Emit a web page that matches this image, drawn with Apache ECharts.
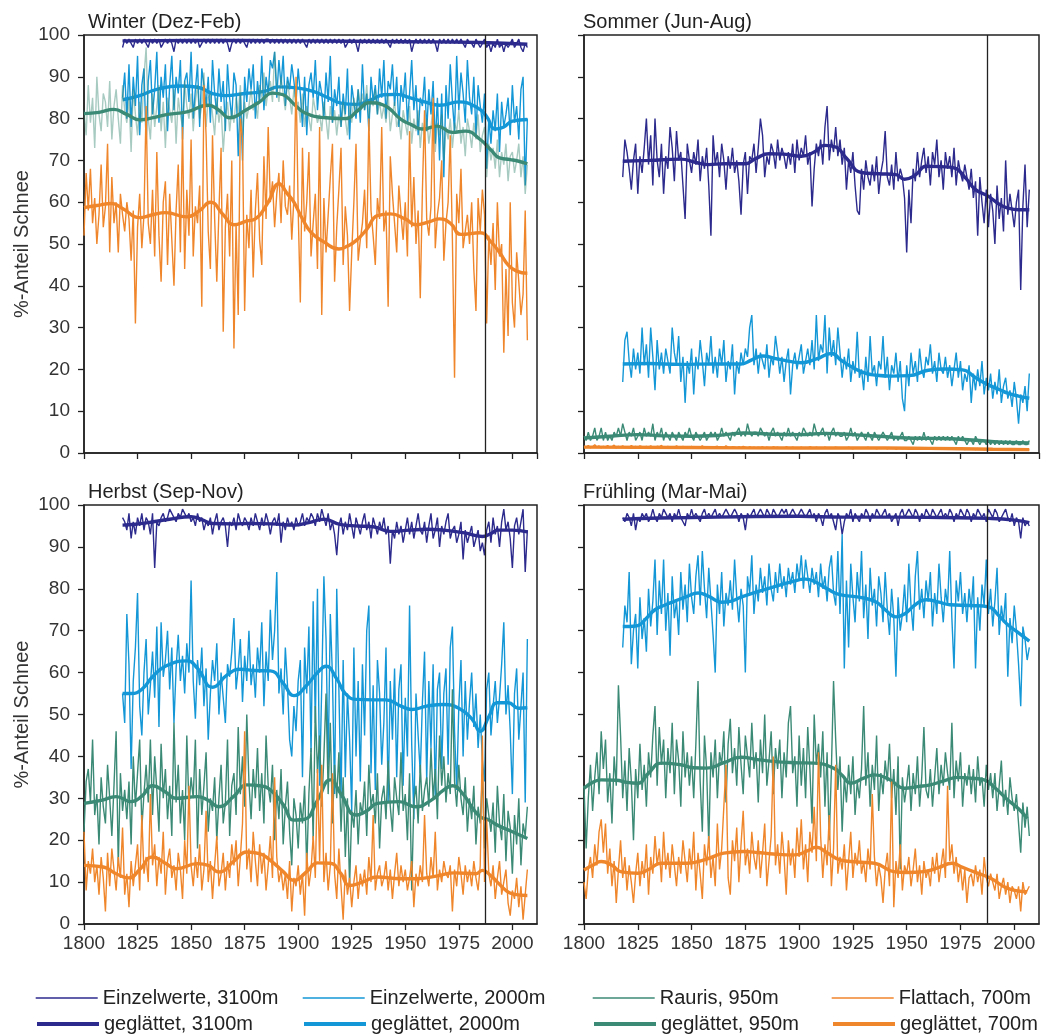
<!DOCTYPE html>
<html><head><meta charset="utf-8">
<script src="https://cdn.jsdelivr.net/npm/echarts/dist/echarts.min.js"></script>
<style>html,body{margin:0;padding:0;background:#fff}#c{width:1057px;height:1035px}</style>
</head><body><div id="c"></div>
<script>
// ---------- DATA ----------
const breakYear = 1987.5;   // vertical marker between 1987 and 1988
const xTickLabels = [1800,1825,1850,1875,1900,1925,1950,1975,2000];
const startHigh = 1818;   // 3100m & 2000m series start
const startLow = 1800;    // Rauris 950m & Flattach 700m start
const panelTitles = ['Winter (Dez-Feb)','Sommer (Jun-Aug)','Herbst (Sep-Nov)','Frühling (Mar-Mai)'];
const names = ['Einzelwerte, 3100m','Einzelwerte, 2000m','Rauris, 950m','Flattach, 700m'];
const namesS = ['geglättet, 3100m','geglättet, 2000m','geglättet, 950m','geglättet, 700m'];

// Winter
const w3100 = [97,99,98,99,98,97,99,98,99,98, 99,98,97,99,98,99,98,99,97,98, 99,98,99,98,96,99,98,99,98,99, 98,99,98,99,98,99,97,98,99,98,
 99,98,99,98,99,98,99,98,99,98, 96,98,99,98,99,98,99,98,97,99, 98,99,98,99,98,99,98,99,99,98, 99,98,99,98,99,98,99,98,99,98,
 99,98,99,98,99,98,97,99,98,99, 98,99,98,99,98,99,98,99,98,99, 98,99,98,99,97,98,99,98,99,98, 96,99,98,99,98,99,98,99,98,99,
 98,99,98,99,98,97,99,98,99,98, 99,98,99,98,99,96,98,99,98,99, 98,99,98,99,98,99,98,96,99,98, 99,98,99,98,99,98,99,98,99,98,
 97,99,98,98,97,99,98,97,98,99, 97,98,96,98,97,99,97,98,96,98, 97,98,99,97,98,99,97,96,98,97];
const w2000 = [85,91,80,93,78,90,83,95,76,88, 92,74,89,94,81,87,96,79,90,85, 93,77,88,95,82,90,86,94,75,89, 91,84,96,80,87,93,78,92,88,83,
 90,79,94,86,81,92,84,89,77,93, 85,80,91,88,71,86,70,90,84,92, 87,93,80,89,84,95,82,90,86,94, 92,96,85,94,88,95,83,90,87,93,
 89,84,92,86,78,90,76,88,91,85, 94,82,89,86,80,91,84,95,79,87, 83,90,78,86,81,92,75,88,84,80, 87,79,93,82,86,77,90,84,88,81,
 92,85,94,80,89,87,93,83,90,78, 88,84,91,79,86,94,82,88,76,85, 83,90,77,87,81,89,74,85,70,86, 66,88,80,93,84,77,95,82,91,86,
 79,94,85,81,90,76,88,83,79,86, 68,80,74,82,77,86,72,84,78,81, 85,76,88,79,83,75,87,90,64,80];
const w950 = [82,76,88,79,85,73,90,81,77,86, 84,78,89,75,83,87,80,74,88,82, 79,85,72,87,81,76,84,79,90,97, 80,75,86,78,83,88,77,84,73,85,
 82,79,87,74,85,81,78,89,83,80, 86,77,84,88,80,83,91,78,85,86, 81,76,85,79,83,72,80,84,77,82, 79,85,81,88,76,84,80,83,87,82,
 84,80,88,85,91,83,87,89,84,96, 88,84,90,86,82,89,85,81,87,83, 84,79,86,78,83,80,77,85,82,79, 81,77,84,80,75,83,79,82,76,81,
 78,84,80,76,83,79,85,81,87,83, 86,82,88,80,85,83,87,81,84,80, 83,79,86,77,81,84,78,80,75,82, 79,76,83,74,80,77,82,73,79,76,
 80,74,78,83,72,79,76,81,70,78, 75,80,73,79,77,82,74,78,71,80, 77,73,79,75,81,72,76,78,66,74, 70,73,68,75,66,72,69,74,65,71,
 72,67,70,74,66,71,62,69];
const w700 = [52,67,58,68,55,61,50,57,69,54, 59,74,48,66,55,60,48,62,57,53, 60,56,46,58,31,54,62,49,57,83, 55,50,63,47,72,52,41,60,65,45,
 62,51,40,58,69,48,78,44,63,52, 75,47,59,55,64,35,88,76,53,44, 76,56,41,58,73,29,54,62,47,70, 25,55,33,80,75,34,57,49,63,42,
 58,67,51,45,71,56,78,60,65,54, 62,67,55,70,59,57,64,51,61,90, 58,36,73,53,60,72,47,55,62,44, 78,33,61,48,57,66,74,41,54,63,
 73,45,59,52,34,48,60,74,46,51, 55,63,49,80,58,52,45,61,56,78, 53,58,35,71,62,55,48,64,57,51, 60,47,77,54,66,50,58,37,63,82,
 56,52,59,85,49,57,61,70,46,55, 60,76,51,18,62,55,68,49,53,57, 50,60,44,34,61,53,63,57,31,52, 45,55,39,60,47,50,24,44,28,60,
 36,30,48,41,33,38,58,27];
const wS3100 = [[1818,98.6],[1850,98.7],[1900,98.6],[1950,98.4],[1985,98.2],[2007,97.8]];
const wS2000 = [[1818,84.5],[1826,85.5],[1834,87],[1845,87.8],[1853,87.5],[1860,86],[1866,85.5],[1875,86],[1884,86.5],[1891,87.6],[1900,87.3],[1907,86.5],[1914,85],[1920,83.7],[1927,83.4],[1934,84.5],[1940,85.7],[1946,85.8],[1952,85],[1959,84],[1966,83.2],[1975,84],[1984,82.5],[1988,80.5],[1992,77.5],[1996,78],[2000,79.4],[2007,79.8]];
const wS950 = [[1800,81.2],[1807,81.5],[1814,82.2],[1820,81],[1826,79.7],[1833,80.3],[1839,81],[1848,81.6],[1858,83.2],[1863,82],[1868,80.2],[1876,82.2],[1882,84],[1888,86.1],[1893,85.7],[1898,83.5],[1903,81.4],[1913,80.2],[1922,80],[1928,82],[1933,83.8],[1940,83.2],[1948,79.8],[1953,78.5],[1958,77.5],[1965,78.2],[1972,76.7],[1978,77],[1985,75],[1990,72.5],[1994,70.6],[1999,70.2],[2003,69.8],[2007,69.2]];
const wS700 = [[1800,58.7],[1806,59.2],[1813,59.7],[1818,58.5],[1826,56.3],[1832,57],[1838,57.5],[1848,56.5],[1854,58],[1859,60],[1865,57],[1870,54.6],[1876,55.5],[1880,56],[1886,60],[1891,64.4],[1895,62],[1898,60],[1902,56],[1906,52.8],[1912,50.5],[1919,48.8],[1923,49.5],[1927,50.8],[1932,53.5],[1937,56.8],[1943,57.2],[1950,56],[1955,54.6],[1961,55.3],[1966,56],[1971,55],[1976,52.3],[1985,52.7],[1990,50.5],[1994,48],[1998,45],[2002,43.5],[2007,43]];

// Sommer
const s3100 = [66,75,72,68,63,70,74,62,71,67, 73,80,69,76,64,80,70,66,74,62, 71,68,78,73,65,77,70,72,64,56, 74,70,67,72,69,75,65,71,68,73,
 64,52,76,69,72,66,74,70,63,71, 68,73,67,70,65,57,69,72,62,71, 70,74,67,73,80,76,66,71,69,74, 72,68,75,70,73,71,68,72,69,74,
 67,75,70,73,71,76,69,72,59,68, 74,71,75,69,78,83,70,75,72,78, 71,75,69,73,63,70,67,72,64,58, 57,68,63,70,66,64,69,65,71,62,
 67,70,77,66,64,69,63,72,65,68, 66,61,48,63,55,68,65,72,66,70, 73,67,71,64,72,69,75,66,70,63, 72,68,71,66,73,64,70,67,65,69,
 66,63,68,61,65,52,66,60,55,63, 54,62,58,50,64,56,61,53,70,57, 62,58,54,60,63,39,59,69,54,63];
const s2000 = [17,27,29,22,18,25,20,24,19,30, 21,26,18,30,23,15,27,20,24,19, 25,22,19,30,24,21,28,17,23,12, 22,19,25,14,23,20,27,22,16,24,
 21,28,19,23,18,25,21,27,17,22, 20,26,14,22,19,24,21,25,23,30, 33,21,25,19,24,22,20,26,18,23, 21,28,24,19,23,17,22,25,14,21,
 24,20,23,26,19,22,25,21,27,20, 33,22,26,24,33,19,30,23,27,21, 30,24,18,23,20,25,17,22,19,29, 18,20,15,23,17,28,19,21,16,22,
 20,28,18,23,15,21,19,24,17,22, 13,10,21,16,24,19,22,17,25,20, 18,23,21,26,19,22,17,24,20,19, 23,18,21,16,20,24,18,22,15,19,
 17,21,12,19,15,20,16,22,14,18, 15,19,13,17,14,20,12,16,18,13, 15,11,17,13,7,14,12,16,10,19];
const s950 = [4,3,5,3,4,6,3,4,6,3, 5,3,4,3,5,4,6,4,7,5, 3,5,4,6,3,4,5,3,6,4, 5,4,7,3,5,4,6,3,5,4, 3,5,4,3,5,4,3,5,4,6,
 4,3,5,4,3,4,5,3,4,5, 4,5,3,4,6,4,5,4,3,5, 4,5,6,4,5,4,7,5,4,5, 5,4,6,5,4,5,3,5,6,4, 5,4,3,5,4,6,4,5,4,3,
 5,4,6,5,4,5,4,7,5,4, 5,6,4,5,3,5,6,4,5,4, 4,5,3,4,6,4,5,3,4,5, 4,3,5,4,3,5,4,3,4,5, 4,3,4,5,3,4,3,4,5,3,
 3,4,3,2,4,3,4,3,5,3, 4,3,2,4,3,4,3,4,3,4, 3,4,3,2,4,3,4,3,2,3, 3,2,4,3,2,3,3,2,3,2, 3,2,3,2,3,2,3,2,3,2,
 2,3,2,2,3,2,2,3];
const s700 = [1.6,1.3,1.8,1.2,1.5,2.0,1.4,1.7,1.2,1.6, 1.4,1.8,1.3,1.5,1.9,1.2,1.6,1.4,1.7,1.3, 1.5,1.2,1.8,1.4,1.6,1.3,1.7,1.5,1.2,1.6,
 1.3,1.7,1.4,1.2,1.6,1.5,1.8,1.3,1.4,1.6, 1.2,1.5,1.3,1.7,1.4,1.2,1.6,1.3,1.5,1.4, 1.6,1.3,1.2,1.5,1.4,1.7,1.3,1.5,1.2,1.4,
 1.3,1.5,1.6,1.2,1.4,1.3,1.7,1.4,1.2,1.5, 1.4,1.2,1.5,1.3,1.6,1.4,1.2,1.5,1.3,1.4, 1.2,1.4,1.3,1.5,1.1,1.4,1.3,1.2,1.5,1.3,
 1.4,1.1,1.3,1.2,1.5,1.3,1.1,1.4,1.2,1.3, 1.2,1.4,1.1,1.3,1.2,1.5,1.3,1.1,1.4,1.2, 1.3,1.1,1.4,1.2,1.3,1.1,1.2,1.4,1.3,1.1,
 1.2,1.3,1.1,1.4,1.2,1.0,1.3,1.2,1.1,1.3, 1.1,1.2,1.4,1.1,1.3,1.2,1.0,1.2,1.3,1.1, 1.2,1.0,1.3,1.1,1.2,0.9,1.1,1.3,1.0,1.2,
 1.1,0.9,1.2,1.0,1.1,1.3,1.0,1.1,0.9,1.2, 1.0,1.2,0.9,1.1,1.0,1.2,0.9,1.1,1.0,1.1, 1.1,0.9,1.0,1.2,0.9,1.0,1.1,0.8,1.0,1.1,
 0.9,1.0,0.8,1.1,0.9,1.0,0.8,0.9,1.0,0.8, 0.9,0.8,1.0,0.7,0.9,0.8,0.9,0.7,0.8,0.9, 0.8,0.7,0.9,0.8,0.7,0.8,0.9,0.7];
const sS3100 = [[1818,69.8],[1830,70],[1845,70.3],[1852,69.5],[1858,69],[1865,69.2],[1875,69.2],[1880,70.5],[1886,71.6],[1893,71.5],[1901,71],[1907,72],[1912,73.6],[1917,73.2],[1922,70.5],[1929,67.1],[1937,66.8],[1945,66.6],[1949,65.5],[1954,66.5],[1959,68.6],[1966,68.5],[1972,68.2],[1977,66],[1982,63],[1988,61.4],[1993,59.5],[1997,58.6],[2002,58.2],[2007,58.2]];
const sS2000 = [[1818,21.3],[1830,21.4],[1845,21.2],[1860,21.3],[1873,21.3],[1878,22.3],[1883,23.2],[1890,22.5],[1901,21.6],[1908,22.5],[1915,23.8],[1920,22],[1929,19.4],[1936,18.6],[1943,18.4],[1951,18.5],[1960,19.8],[1968,20.1],[1976,19.9],[1982,18],[1988,16.3],[1993,15.2],[1997,14.3],[2002,13.6],[2007,13.1]];
const sS950 = [[1800,3.6],[1812,4],[1825,4.4],[1837,4.1],[1850,4],[1862,4.2],[1875,4.8],[1888,4.5],[1900,4.4],[1912,4.7],[1925,4.4],[1937,4],[1950,3.6],[1962,3.5],[1975,3.3],[1988,2.8],[1998,2.5],[2007,2.4]];
const sS700 = [[1800,1.4],[1850,1.3],[1900,1.2],[1940,1.2],[1960,1.1],[1990,0.9],[2007,0.8]];

// Herbst
const h3100 = [97,96,94,98,92,96,93,97,95,98, 94,97,96,93,98,85,96,95,97,98, 96,97,99,98,97,96,98,97,99,98, 97,98,96,97,95,98,96,97,94,96,
 95,97,93,96,98,94,96,97,95,90, 96,95,97,94,98,96,95,97,96,94, 97,95,98,96,94,97,95,98,96,93, 96,97,95,98,91,96,94,97,95,96,
 94,97,95,96,98,95,97,96,98,97, 95,98,96,99,97,95,98,94,96,93, 88,95,97,93,96,94,98,95,92,97, 95,93,96,98,94,96,92,97,95,93,
 96,94,97,93,95,86,94,92,96,93, 95,91,94,97,93,96,92,95,98,94, 93,96,91,95,98,92,94,97,90,95, 93,96,98,92,94,95,91,93,96,87,
 94,91,93,95,90,92,94,89,91,88, 94,96,91,97,93,95,90,96,99,94, 96,92,85,95,97,93,96,99,84,94];
const h2000 = [55,48,74,62,37,58,66,79,52,45, 60,68,50,57,65,54,71,47,72,59, 63,70,56,66,48,61,69,58,64,55, 67,60,82,58,49,63,57,66,52,61,
 44,55,63,58,67,50,60,54,48,62, 59,65,73,56,61,68,53,64,58,70, 57,62,54,66,60,72,52,65,58,75, 63,70,84,55,61,50,66,57,44,40,
 52,46,58,63,35,66,55,71,41,77, 48,80,33,57,83,68,38,74,59,31, 80,56,30,63,35,55,44,27,66,40, 58,34,62,45,70,76,36,57,32,63,
 55,38,48,66,29,58,44,61,35,56, 62,33,54,40,76,43,25,55,45,36, 53,65,34,58,42,62,30,56,60,37, 55,61,38,66,71,46,32,52,63,40,
 58,44,53,60,47,55,42,50,39,34, 56,60,45,52,58,48,54,62,72,50, 57,46,31,55,61,44,52,60,29,68];
const h950 = [22,34,37,29,44,26,31,19,35,28, 24,38,30,21,33,46,14,36,27,32, 25,34,19,40,28,36,44,23,31,38, 29,44,26,40,32,22,43,30,37,25,
 33,21,48,29,38,24,32,20,45,28, 35,30,44,18,37,26,33,41,22,30, 27,35,20,30,38,24,29,44,21,33, 36,26,47,31,40,28,50,34,25,37,
 30,42,27,36,24,45,33,29,38,20, 32,25,37,19,28,34,22,14,30,26, 18,29,24,33,13,31,42,20,52,36, 45,28,40,55,31,48,24,38,30,41,
 22,35,16,30,9,27,23,32,19,29, 26,34,21,38,28,31,24,36,18,30, 33,25,39,28,22,35,30,26,41,27, 31,20,36,8,29,33,24,38,27,32,
 35,28,42,30,37,25,45,33,40,29, 36,31,56,34,28,38,30,26,35,22, 30,25,33,19,28,24,36,18,30,26, 22,29,17,33,24,20,31,15,27,23,
 12,26,19,30,14,24,21,28];
const h700 = [22,8,15,12,18,10,14,7,16,11, 3,17,9,18,13,8,16,11,23,7, 12,4,15,9,14,19,8,26,12,16, 10,31,14,19,9,16,12,22,7,15,
 18,11,14,8,17,13,6,20,12,33, 14,9,16,11,19,8,13,27,10,15, 6,14,21,9,12,17,8,15,11,19, 14,20,9,16,24,46,13,18,10,22,
 15,9,19,12,17,8,14,21,11,35, 16,10,13,8,12,6,15,3,11,9, 14,7,12,2,17,9,13,21,11,37, 15,38,10,17,8,14,36,12,6,18,
 9,1,13,7,11,4,10,14,6,12, 9,13,7,16,10,26,8,12,14,9, 11,15,8,13,6,12,17,9,14,10, 13,8,11,15,4,12,9,14,10,26,
 12,9,16,11,22,8,13,10,15,12, 11,14,3,13,9,16,12,7,14,10, 13,9,15,11,8,14,45,10,25,12, 9,14,6,11,15,7,10,13,5,2,
 8,6,11,4,9,1,7,13];
const hS3100 = [[1818,95.2],[1824,95.4],[1830,95.8],[1840,96.6],[1850,97.2],[1855,96.5],[1860,95.6],[1870,95.5],[1877,95.6],[1888,95.5],[1898,95.2],[1905,95.8],[1912,96.6],[1920,95.3],[1928,95],[1935,94.8],[1943,93.7],[1952,94],[1960,94.2],[1968,94],[1977,93.4],[1986,92.5],[1990,93.2],[1993,94],[2000,94],[2007,93.6]];
const hS2000 = [[1818,55],[1822,55],[1827,56],[1832,59],[1838,61.5],[1848,62.8],[1853,61],[1860,56.5],[1867,59.5],[1873,60.8],[1880,60.5],[1887,60.4],[1893,57.5],[1898,54.5],[1904,57],[1909,60],[1913,61.5],[1918,58.5],[1922,55],[1927,53.6],[1935,53.5],[1941,53.5],[1948,52],[1953,51.2],[1960,52],[1968,52.4],[1975,51.5],[1981,49],[1985,46],[1989,49.5],[1993,52.8],[1998,52.8],[2003,51.5],[2007,51.6]];
const hS950 = [[1800,28.8],[1808,29.5],[1815,30.4],[1822,29.2],[1827,30.5],[1832,33],[1838,31.5],[1843,30],[1853,30.4],[1858,29.5],[1863,28],[1870,30.5],[1876,33.2],[1882,33],[1887,32],[1893,28.5],[1898,24.8],[1903,25],[1909,29.5],[1915,34.4],[1920,31],[1927,26],[1932,27],[1937,28.8],[1947,29.2],[1955,28],[1962,29.5],[1968,32],[1972,33],[1977,31],[1981,28],[1985,25.6],[1989,24.8],[1993,23.6],[2000,22],[2007,20.4]];
const hS700 = [[1800,14],[1809,13.6],[1815,12],[1821,11],[1826,13],[1832,16],[1838,14.5],[1843,13.2],[1853,14.4],[1858,14],[1863,12.4],[1870,15],[1876,17.2],[1882,16.8],[1887,15.2],[1893,12.5],[1898,10.4],[1904,12.5],[1909,14.6],[1915,14.5],[1920,12],[1924,9.2],[1930,10],[1937,11.2],[1948,10.8],[1955,10.8],[1965,11.5],[1973,12.2],[1983,12],[1986,12.8],[1990,11.5],[1993,10],[1997,8],[2000,7.2],[2007,6.8]];

// Frühling
const f3100 = [97,96,98,97,95,98,94,97,96,98, 97,98,96,97,99,97,96,98,97,99, 98,97,98,96,98,97,99,97,96,95, 98,97,99,97,98,97,96,98,99,97,
 98,97,98,99,97,98,97,98,99,98, 97,98,99,98,96,98,97,94,98,97, 98,99,97,98,99,98,97,99,98,97, 99,98,97,98,99,98,99,97,98,99,
 98,97,98,99,98,97,98,99,97,98, 96,98,97,95,98,99,97,98,96,94, 98,97,93,96,98,97,99,96,98,97, 96,98,97,99,98,96,98,97,99,98,
 97,98,99,97,98,96,97,98,95,98, 99,97,98,99,98,97,99,98,96,98, 97,99,98,97,99,98,97,98,99,97, 98,97,99,98,96,98,97,99,98,97,
 99,98,96,98,97,99,98,97,98,96, 99,98,97,99,98,96,97,98,99,97, 96,98,95,97,96,92,97,95,96,95];
const f2000 = [66,76,72,84,62,70,74,61,78,68, 73,65,80,71,77,87,69,82,74,87, 70,79,64,83,73,77,69,84,75,81, 72,86,78,74,83,88,76,89,80,73,
 85,77,69,60,81,74,84,71,79,76, 82,75,87,78,72,80,76,60,83,79, 88,74,81,77,85,79,83,76,86,80, 77,84,79,86,80,83,78,85,81,84,
 79,86,82,88,80,87,83,79,85,81, 84,78,86,80,83,77,85,88,79,76, 89,74,93,61,82,66,86,78,72,84, 77,89,73,81,68,85,76,80,71,83,
 79,72,84,75,69,80,73,59,78,70, 74,81,72,86,76,70,83,89,75,80, 73,82,77,84,71,79,74,86,78,72, 80,76,89,73,61,82,77,84,74,79,
 72,80,75,83,61,78,70,81,76,87, 74,80,71,77,85,69,76,72,79,59, 73,67,76,70,62,52,71,68,63,66];
const f950 = [33,18,30,38,27,35,41,31,46,37, 44,29,36,24,40,33,57,45,30,39, 27,42,34,20,37,30,43,32,38,28, 41,35,45,52,33,47,38,44,30,42,
 36,48,31,44,39,28,46,35,41,33, 40,30,43,58,34,22,45,37,19,41, 35,44,30,41,38,46,29,43,49,36, 42,33,47,38,31,45,40,35,48,37,
 41,29,44,36,50,33,39,46,31,42, 37,44,30,41,35,48,52,36,40,28, 45,33,42,30,47,37,24,50,38,43, 35,46,28,41,20,37,58,44,32,40,
 22,35,29,38,31,40,26,34,30,37, 52,33,41,28,38,32,45,27,36,31, 39,34,43,30,37,26,40,13,35,29, 33,38,27,36,31,40,28,35,47,32,
 30,37,28,35,42,31,38,33,41,36, 32,48,30,39,34,41,28,36,33,38, 31,37,29,40,33,35,28,38,32,36, 30,36,27,33,39,28,32,26,35,30,
 27,31,24,17,29,23,28,21];
const f700 = [10,6,13,16,11,19,14,22,25,17, 24,12,18,9,15,5,13,20,11,16, 8,14,10,5,12,17,9,15,11,19, 7,16,12,21,14,18,10,22,13,17,
 11,19,14,9,16,12,20,15,10,18, 13,22,8,17,12,6,19,14,21,11, 16,9,24,13,18,28,38,11,7,20, 15,23,10,19,27,14,18,12,22,16,
 13,20,11,17,24,9,15,21,40,14, 19,12,22,16,7,20,14,18,11,23, 16,25,13,19,10,22,17,28,15,41, 21,11,19,14,26,9,18,38,12,16,
 13,19,8,15,22,11,17,14,20,12, 15,10,18,13,31,16,9,14,11,5, 13,17,9,34,4,15,11,19,8,14, 12,16,9,13,18,10,14,7,15,11,
 13,9,16,12,17,10,14,18,11,33, 15,19,12,16,10,14,8,13,5,11, 12,9,14,10,13,7,16,11,9,12, 10,8,12,6,9,11,7,10,5,9,
 8,6,9,3,10,7,8,9];
const fS3100 = [[1818,96.6],[1835,96.9],[1850,97],[1873,97.2],[1900,97.3],[1920,97.1],[1945,97.1],[1966,97],[1988,96.8],[2000,96.4],[2007,95.8]];
const fS2000 = [[1818,71],[1821,71],[1825,71.2],[1829,73],[1833,75],[1838,76.2],[1842,77],[1848,78.2],[1853,79],[1858,78.2],[1864,76.8],[1868,77],[1873,78],[1880,79.2],[1889,80.6],[1896,81.6],[1903,82.3],[1908,81.5],[1913,80],[1919,78.6],[1925,78.2],[1930,77.8],[1936,76.8],[1940,75],[1945,73.3],[1949,74],[1954,76.2],[1959,77.4],[1965,76.8],[1970,76.2],[1980,76],[1988,75.7],[1993,73.5],[1997,71.4],[2002,69.5],[2007,67.5]];
const fS950 = [[1800,32.4],[1804,33.8],[1808,34.4],[1815,34.3],[1820,33.8],[1825,33.6],[1830,36],[1836,38.4],[1845,38],[1851,37.3],[1857,37.2],[1865,38.5],[1873,39.8],[1880,39.3],[1888,38.8],[1898,38.5],[1907,38.4],[1916,37.2],[1920,35.5],[1924,33.6],[1930,34.8],[1935,35.6],[1942,34.5],[1949,32.4],[1955,32.8],[1961,33.2],[1968,34.3],[1974,35],[1980,34.8],[1986,34.4],[1991,32.5],[1997,29.6],[2002,27.5],[2006,25.2]];
const fS700 = [[1800,12.9],[1804,14],[1808,14.9],[1813,14],[1817,12.5],[1825,12.1],[1830,13],[1836,14.5],[1848,14.5],[1857,15.5],[1865,16.9],[1874,17.3],[1882,17],[1888,16.7],[1898,16.5],[1904,17.5],[1908,18.3],[1913,17],[1919,15.3],[1927,14.8],[1935,14.5],[1944,12.5],[1950,12.3],[1958,12.5],[1965,13.5],[1971,14.5],[1976,13.5],[1981,12.5],[1989,10.9],[1997,8.5],[2006,7.7]];

// ---------- CHART ----------
const colors = ['#2c2a8c','#1497d6','#3b8a76','#f0862b'];
const FONT = 'Liberation Sans, Arial, sans-serif';
const panels = [
  {thin:[w3100,w2000,w950,w700], sm:[wS3100,wS2000,wS950,wS700]},
  {thin:[s3100,s2000,s950,s700], sm:[sS3100,sS2000,sS950,sS700]},
  {thin:[h3100,h2000,h950,h700], sm:[hS3100,hS2000,hS950,hS700]},
  {thin:[f3100,f2000,f950,f700], sm:[fS3100,fS2000,fS950,fS700]}
];
const starts = [startHigh,startHigh,startLow,startLow];
const gridPos = [
  {left:84, top:35, width:453, height:418},
  {left:584, top:35, width:455, height:418},
  {left:84, top:505, width:453, height:419},
  {left:584, top:505, width:455, height:419}
];
const grids = gridPos.map(g => Object.assign({show:true, borderColor:'#222', borderWidth:1.5, backgroundColor:'#fff'}, g));
const titles = panelTitles.map((t,i) => ({text:t, padding:0, left:gridPos[i].left + (i%2===0 ? 4 : -1), top:gridPos[i].top-23,
  textStyle:{fontSize:20, fontWeight:'normal', color:'#222', fontFamily:FONT}}));
const xAxes = gridPos.map((g,i) => ({type:'value', gridIndex:i, min:1800, max:2011.5, interval:25,
  axisLine:{show:true, lineStyle:{color:'#222', width:1.5}},
  axisTick:{show:true, length:6, lineStyle:{color:'#222', width:1.3}},
  axisLabel:{show:i>=2, fontSize:19, color:'#333', fontFamily:FONT, margin:10, showMaxLabel:false,
    formatter:v => xTickLabels.includes(v) ? String(v) : ''},
  splitLine:{show:false}}));
const yAxes = gridPos.map((g,i) => ({type:'value', gridIndex:i, min:0, max:100, interval:10,
  name: i%2===0 ? '%-Anteil Schnee' : '', nameLocation:'middle', nameGap:52, nameRotate:90,
  nameTextStyle:{fontSize:20, color:'#333', fontFamily:FONT},
  axisLine:{show:true, lineStyle:{color:'#222', width:1.5}},
  axisTick:{show:true, length:6, lineStyle:{color:'#222', width:1.3}},
  axisLabel:{show:i%2===0, fontSize:19, color:'#333', fontFamily:FONT, margin:14},
  splitLine:{show:false}}));

const series = [];
panels.forEach((p,pi) => {
  for (let k=0;k<4;k++){
    const thinData = p.thin[k].map((v,j) => [starts[k]+j, v]);
    const s = {type:'line', name:names[k], xAxisIndex:pi, yAxisIndex:pi, data:thinData,
      symbol:'none', silent:true,
      lineStyle:{color:colors[k], width:1.4, opacity:(pi===0 && k===2) ? 0.45 : 1},
      itemStyle:{color:colors[k]}, z:2+k*2};
    if (k===0) s.markLine = {silent:true, symbol:'none', label:{show:false},
      lineStyle:{color:'#222', width:1.3, type:'solid'}, data:[{xAxis:breakYear}], z:20};
    series.push(s);
    series.push({type:'line', name:namesS[k], xAxisIndex:pi, yAxisIndex:pi, data:p.sm[k],
      symbol:'none', smooth:0.5, silent:true,
      lineStyle:{color:colors[k], width:3.4}, itemStyle:{color:colors[k]}, z:3+k*2});
  }
});

const legX = [30, 297, 587, 826];
const legends = [];
for (let k=0;k<4;k++){
  legends.push({left:legX[k], top:983, itemWidth:62, itemHeight:14, itemGap:0,
    data:[{name:names[k], lineStyle:{color:colors[k], width:1.4, opacity:1}, itemStyle:{opacity:0}}],
    textStyle:{fontSize:20, color:'#222', fontFamily:FONT}, selectedMode:false});
  legends.push({left:legX[k], top:1009, itemWidth:62, itemHeight:14, itemGap:0,
    data:[{name:namesS[k], lineStyle:{color:colors[k], width:4}, itemStyle:{opacity:0}}],
    textStyle:{fontSize:20, color:'#222', fontFamily:FONT}, selectedMode:false});
}

const chart = echarts.init(document.getElementById('c'), null, {renderer:'canvas'});
chart.setOption({animation:false, backgroundColor:'#fff', title:titles, grid:grids,
  xAxis:xAxes, yAxis:yAxes, legend:legends, series:series});
</script></body></html>
